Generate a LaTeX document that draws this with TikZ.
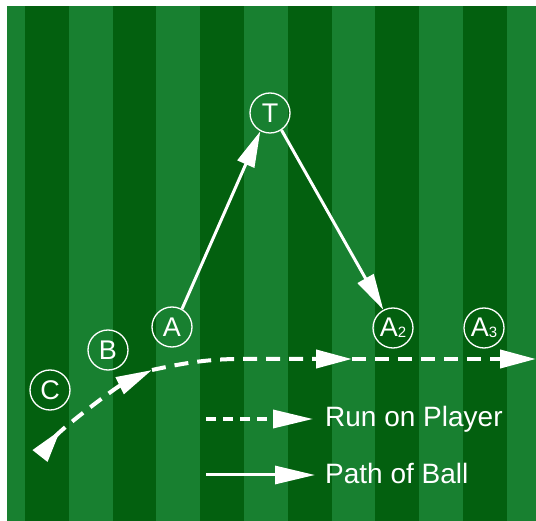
\documentclass[tikz,border=0pt]{standalone}
\usepackage{fontspec}
\setmainfont{Liberation Sans}
\usepackage{tikz}
\usetikzlibrary{arrows.meta}
\definecolor{pitchlight}{RGB}{24,128,48}
\definecolor{pitchdark}{RGB}{3,96,15}

\begin{document}
\begin{tikzpicture}[x=1pt, y=-1pt, >={Triangle[length=36pt,width=18pt]},
    player/.style={circle, draw=white, line width=1.3pt, minimum size=40pt, inner sep=0pt, text=white, font=\fontsize{27}{27}\selectfont},
    ballpath/.style={white, line width=3pt, ->},
    runpath/.style={white, line width=4pt, dash pattern=on 14pt off 9pt, ->},
    legendtext/.style={text=white, anchor=base west, inner sep=0pt, font=\fontsize{28}{28}\selectfont}]
    \useasboundingbox (0,0) rectangle (536,521);
    % Pitch with stripes
    \fill[pitchlight] (7,6) rectangle (536,521);
    \foreach \k in {0,...,5}
        \fill[pitchdark] ({25+87.6*\k},6) rectangle ({68.8+87.6*\k},521);
    % Players
    \node[player] (T) at (270,113) {T};
    \node[player] (A) at (172,327) {A};
    \node[player] (B) at (108,350) {B};
    \node[player] (C) at (50,390) {C};
    \node[player] (A2) at (393,328) {A\raisebox{-1pt}{\fontsize{15}{15}\selectfont 2}};
    \node[player] (A3) at (484,328) {A\raisebox{-1pt}{\fontsize{15}{15}\selectfont 3}};
    % Path of ball
    \draw[ballpath] (A.61) -- (T.242);
    \draw[ballpath] (T.304) -- (A2.118);
    % Run on player
    \coordinate (runStart) at (40,456);
    \coordinate (runBend) at (152,370);
    \coordinate (runMid) at (352,359);
    \coordinate (runEnd) at (536,359);
    \draw[runpath, {Triangle[reversed,length=33pt,width=18pt]}->] (runStart) .. controls (62,428) and (115,388) .. (runBend);
    \draw[runpath] (runBend) .. controls (180,364) and (205,359) .. (240,359) -- (runMid);
    \draw[runpath] (runMid) -- (runEnd);
    % Legend
    \node[legendtext] (runText) at (325,427) {Run on Player};
    \node[legendtext] (ballText) at (325,483) {Path of Ball};
    \coordinate (runKeyTail) at (206,419);
    \coordinate (runKeyTip) at (313,419);
    \coordinate (ballKeyTail) at (206,475);
    \coordinate (ballKeyTip) at (315,475);
    \draw[runpath, line width=3.5pt, dash pattern=on 10pt off 7pt, -{Triangle[length=40pt,width=18pt]}] (runKeyTail) -- (runKeyTip);
    \draw[ballpath, -{Triangle[length=40pt,width=18pt]}] (ballKeyTail) -- (ballKeyTip);
\end{tikzpicture}
\end{document}
